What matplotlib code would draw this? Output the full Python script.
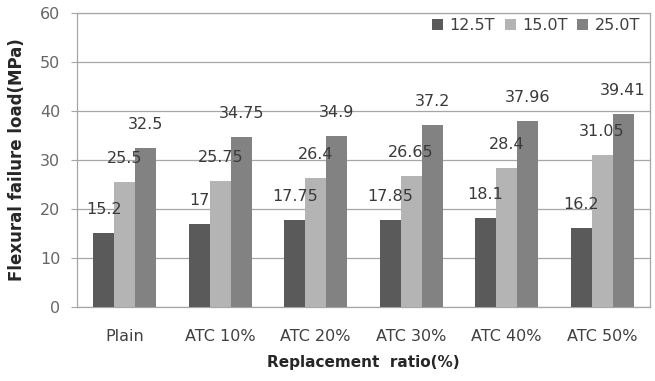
import matplotlib
matplotlib.use("Agg")
import matplotlib.pyplot as plt
import numpy as np

categories = ["Plain", "ATC 10%", "ATC 20%", "ATC 30%", "ATC 40%", "ATC 50%"]
series_names = ["12.5T", "15.0T", "25.0T"]
s125 = [15.2, 17, 17.75, 17.85, 18.1, 16.2]
s150 = [25.5, 25.75, 26.4, 26.65, 28.4, 31.05]
s250 = [32.5, 34.75, 34.9, 37.2, 37.96, 39.41]
label125 = ["15.2", "17", "17.75", "17.85", "18.1", "16.2"]
label150 = ["25.5", "25.75", "26.4", "26.65", "28.4", "31.05"]
label250 = ["32.5", "34.75", "34.9", "37.2", "37.96", "39.41"]
yticks = [0, 10, 20, 30, 40, 50, 60]

colors = ["#5a5a5a", "#b4b4b4", "#828282"]

plt.rcParams['font.family'] = ['DejaVu Sans']

fig = plt.figure(figsize=(6.55, 3.81), dpi=100)
ax = fig.add_axes([0.1176, 0.194, 0.8744, 0.772])

x = np.arange(len(categories))
w = 0.22
series = [s125, s150, s250]
labels = [label125, label150, label250]
for i, (vals, labs, c, name) in enumerate(zip(series, labels, colors, series_names)):
    pos = x + (i - 1) * w
    ax.bar(pos, vals, width=w, color=c, label=name, zorder=3)
    for p, v, t in zip(pos, vals, labs):
        ax.text(p, v + 4.8, t, ha='center', va='center', fontsize=11.5,
                color='#3a3a3a', zorder=4)

ax.set_xlim(-0.5, len(categories) - 0.5)
ax.set_ylim(0, 60)
ax.set_yticks(yticks)
ax.set_xticks(x)
ax.set_xticklabels(categories)
ax.yaxis.grid(True, color='#a6a6a6', linewidth=0.9, zorder=0)
ax.tick_params(axis='y', length=4, color='#a6a6a6', labelsize=11.5, labelcolor='#666666', pad=8)
ax.tick_params(axis='x', length=0, labelsize=11.5, labelcolor='#404040', pad=16)
for s in ax.spines.values():
    s.set_color('#a6a6a6')
    s.set_linewidth(0.9)

ax.set_ylabel("Flexural failure load(MPa)", fontsize=12, fontweight='bold', color='#262626', labelpad=10)
ax.set_xlabel("Replacement  ratio(%)", fontsize=11, fontweight='bold', color='#262626', labelpad=8)

leg = ax.legend(loc='center right', bbox_to_anchor=(1.0, 0.958), ncol=3, frameon=False, fontsize=11.5,
                handlelength=0.7, handleheight=0.7, handletextpad=0.4,
                columnspacing=0.6, borderaxespad=0.2, labelcolor='#404040')

fig.savefig("out.png", dpi=100)
